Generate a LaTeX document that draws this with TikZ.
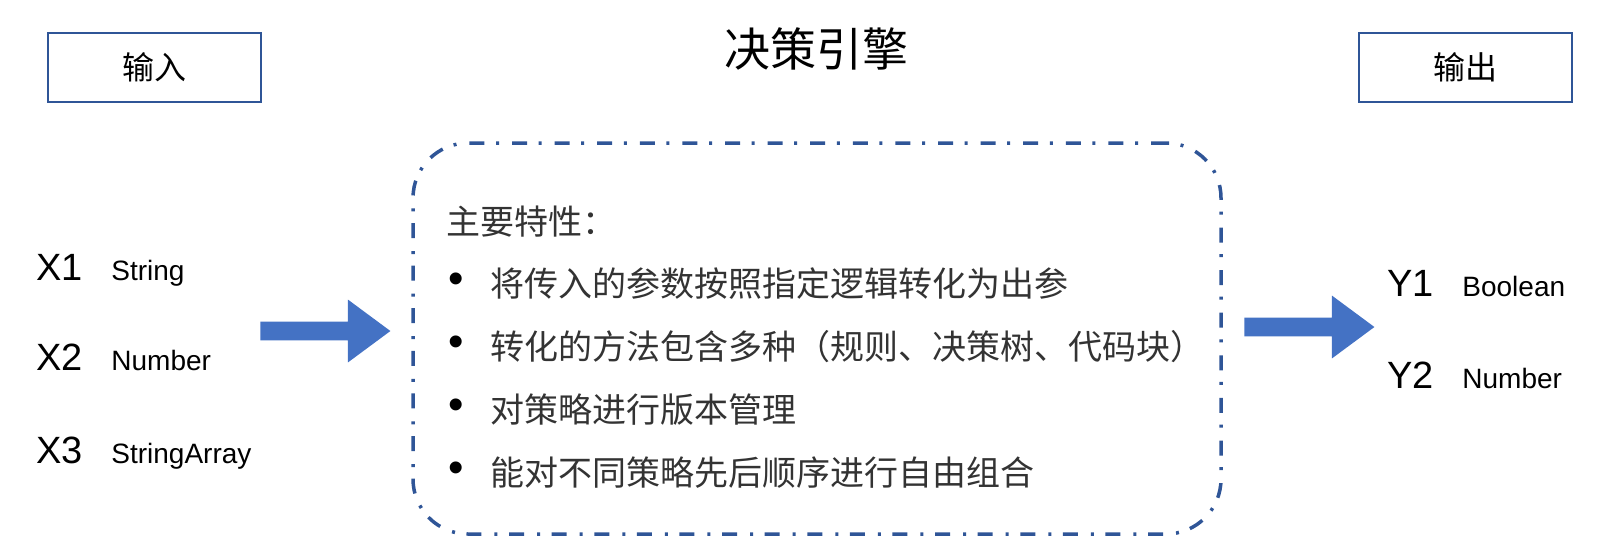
\documentclass[tikz,border=0pt]{standalone}
\usepackage{xcolor}
\usepackage{fontspec}
\setmainfont{Liberation Sans}
\newfontfamily\cjk{Noto Sans CJK SC}
\usepackage{tikz}
\usetikzlibrary{shapes,arrows,positioning,calc}
\definecolor{boxblue}{HTML}{2F5597}
\definecolor{arrowblue}{HTML}{4472C4}
\definecolor{textgray}{HTML}{333333}

\begin{document}
\begin{tikzpicture}[x=0.5pt, y=-0.5pt]
  % Define styles
  \tikzstyle{iobox} = [rectangle, draw=boxblue, line width=1pt, minimum width=106.5pt, minimum height=34.5pt, font=\cjk\fontsize{16}{16}\selectfont]
  \tikzstyle{title} = [font=\cjk\fontsize{23}{23}\selectfont, inner sep=0pt]
  \tikzstyle{enginebox} = [rectangle, draw=boxblue, line width=1.75pt, rounded corners=27.5pt, dash pattern=on 7.5pt off 6.5pt on 1.5pt off 5.8pt, minimum width=404pt, minimum height=195.5pt]
  \tikzstyle{feature} = [font=\cjk\fontsize{17}{17}\selectfont, text=textgray, inner sep=0pt, anchor=base west]
  \tikzstyle{dot} = [font=\fontsize{22}{22}\selectfont, text=black, inner sep=0pt]
  \tikzstyle{var} = [font=\fontsize{19}{19}\selectfont, inner sep=0pt, anchor=base west]
  \tikzstyle{vartype} = [font=\fontsize{14}{14}\selectfont, inner sep=0pt, anchor=base west]
  \tikzstyle{flow} = [single arrow, fill=arrowblue, draw=none, inner sep=4.5pt, minimum height=65pt, single arrow head extend=11pt, single arrow tip angle=73, anchor=tail]

  \useasboundingbox (0,0) rectangle (1620,554);

  % Header boxes and title
  \node [iobox] (input) at (154.5,67.5) {输入};
  \node [iobox] (output) at (1465,67.5) {输出};
  \node [title] (engine) at (816,49) {决策引擎};

  % Engine
  \node [enginebox] (core) at (817,338.5) {};
  \node [feature] (head) at (446,234) {主要特性：};
  \node [dot] (b1) at (456,283) {•};
  \node [feature] (f1) at (490,296) {将传入的参数按照指定逻辑转化为出参};
  \node [dot] (b2) at (456,346) {•};
  \node [feature] (f2) at (490,359) {转化的方法包含多种（规则、决策树、代码块）};
  \node [dot] (b3) at (456,409) {•};
  \node [feature] (f3) at (490,422) {对策略进行版本管理};
  \node [dot] (b4) at (456,472) {•};
  \node [feature] (f4) at (490,485) {能对不同策略先后顺序进行自由组合};

  % Inputs
  \node [var] (x1) at (36,280) {X1};
  \node [vartype] (x1t) at (111,280) {String};
  \node [var] (x2) at (36,370) {X2};
  \node [vartype] (x2t) at (111,370) {Number};
  \node [var] (x3) at (36,463) {X3};
  \node [vartype] (x3t) at (111,463) {StringArray};

  % Outputs
  \node [var] (y1) at (1387,296) {Y1};
  \node [vartype] (y1t) at (1462,296) {Boolean};
  \node [var] (y2) at (1387,388) {Y2};
  \node [vartype] (y2t) at (1462,388) {Number};

  % Flow arrows
  \node [flow] (inflow) at (260,331) {};
  \node [flow] (outflow) at (1244,327) {};

\end{tikzpicture}
\end{document}
